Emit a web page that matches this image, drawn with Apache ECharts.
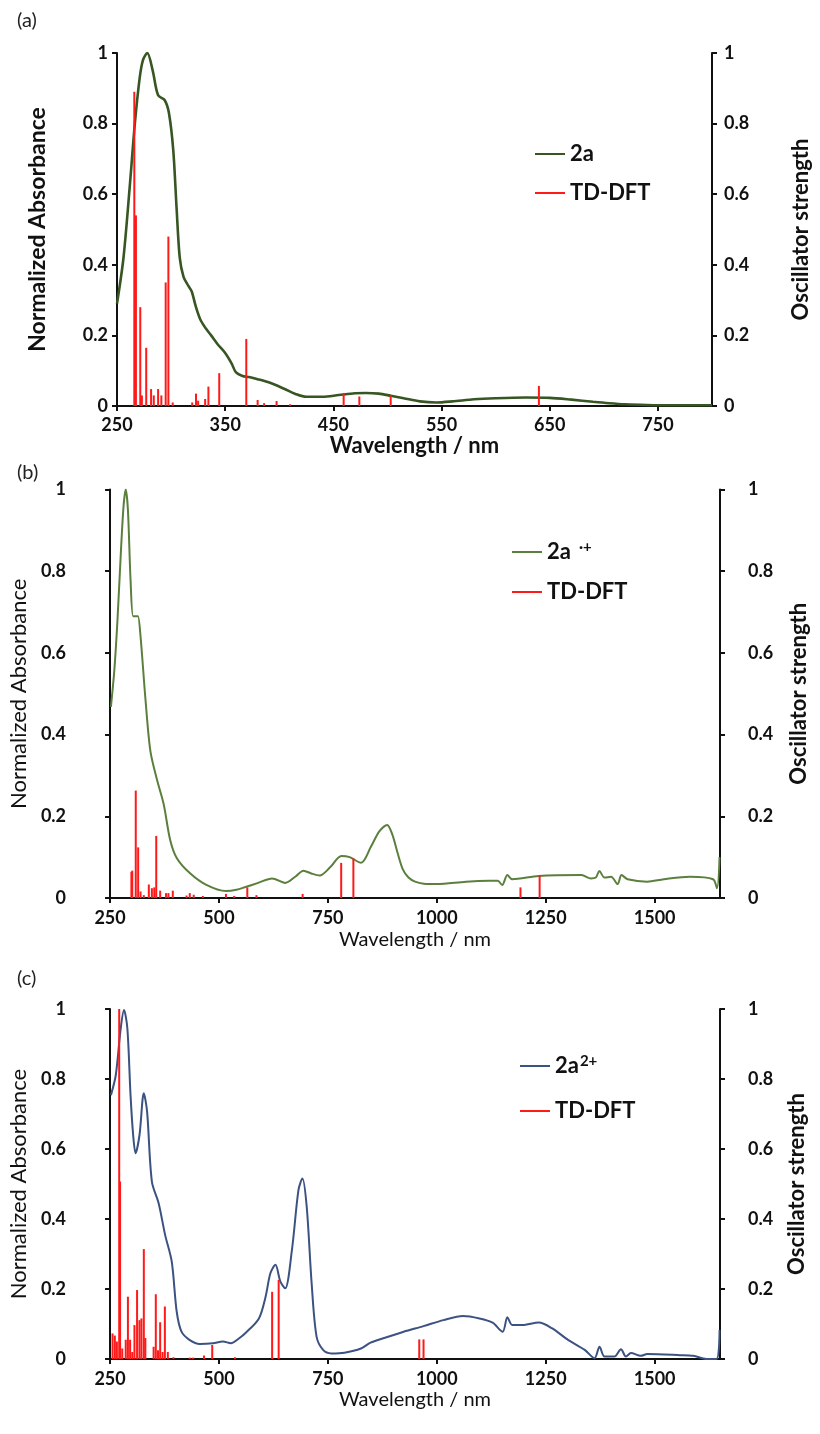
<!DOCTYPE html>
<html><head><meta charset="utf-8">
<script src="https://cdn.jsdelivr.net/npm/echarts@6/dist/echarts.min.js"></script>
<style>html,body{margin:0;padding:0;background:#fff}#c{width:820px;height:1434px}</style>
</head><body><div id="c"></div>
<script>
// ---------- DATA ----------
const panelLabels = ['(a)', '(b)', '(c)'];
const seriesNames = ['2a', '2a·+', '2a2+'];
const dftName = 'TD-DFT';
const xTicksA = [250, 350, 450, 550, 650, 750];
const xTicksBC = [250, 500, 750, 1000, 1250, 1500];

// (a) 2a absorbance [nm, normalized]
const absA = [[250,0.29],[256,0.42],[262,0.63],[266.5,0.80],[271,0.93],[274,0.98],[278,1.0],[283,0.95],[288,0.88],[294,0.867],[298,0.83],[302,0.725],[305,0.565],[308,0.42],[311.5,0.366],[316,0.34],[319,0.325],[323,0.28],[327,0.245],[332,0.22],[337,0.2],[343,0.175],[350,0.15],[356,0.12],[360,0.095],[366,0.085],[372,0.082],[380,0.076],[392,0.065],[405,0.048],[415,0.034],[425,0.026],[440,0.026],[455,0.031],[470,0.036],[480,0.037],[492,0.035],[503,0.029],[515,0.022],[530,0.013],[545,0.01],[560,0.013],[580,0.019],[600,0.022],[628,0.024],[650,0.023],[670,0.018],[690,0.012],[705,0.008],[720,0.005],[740,0.003],[760,0.002],[800,0.002]];
// (a) TD-DFT oscillator strengths [nm, f]
const dftA = [[266,0.89],[267.5,0.54],[271.5,0.28],[273,0.03],[277,0.165],[281.5,0.048],[284,0.03],[288,0.048],[291,0.03],[295,0.35],[297.5,0.48],[301.5,0.01],[319.5,0.01],[323,0.035],[325,0.015],[331.5,0.02],[334.5,0.055],[344.5,0.093],[369.5,0.19],[380,0.017],[386,0.008],[397.5,0.014],[410,0.005],[459.5,0.037],[474,0.027],[503,0.03],[640,0.057]];

// (b) 2a·+ absorbance
const absB = [[252,0.468],[260,0.56],[267,0.68],[275,0.85],[281,0.96],[286,1.0],[291,0.95],[297,0.78],[303,0.69],[310,0.69],[314,0.69],[320,0.64],[331,0.49],[342.5,0.36],[357.6,0.29],[373,0.23],[388,0.142],[403,0.098],[433,0.061],[471,0.032],[516,0.017],[540,0.02],[561,0.027],[590,0.037],[622,0.048],[652,0.037],[675,0.052],[694,0.067],[712,0.06],[731,0.055],[755,0.075],[781,0.103],[800,0.1],[826,0.086],[849,0.126],[868,0.163],[886,0.179],[898,0.155],[910,0.11],[922,0.07],[935,0.05],[950,0.04],[970,0.035],[1000,0.034],[1067,0.04],[1120,0.042],[1140,0.042],[1150,0.032],[1162,0.056],[1173,0.046],[1234,0.054],[1332,0.056],[1354,0.048],[1365,0.05],[1373,0.066],[1385,0.05],[1400,0.052],[1415,0.034],[1424,0.056],[1438,0.046],[1483,0.04],[1521,0.046],[1581,0.052],[1634,0.046],[1643,0.024],[1649,0.10]];
const dftB = [[299,0.064],[301,0.067],[309,0.263],[314.5,0.124],[320,0.016],[327.5,0.007],[339,0.033],[346,0.024],[351.5,0.026],[356,0.152],[365,0.018],[378.5,0.012],[384,0.012],[394,0.018],[425.5,0.006],[433,0.012],[442,0.008],[463,0.005],[516,0.01],[535,0.005],[565,0.026],[586,0.007],[692,0.01],[780.5,0.086],[808.5,0.097],[1192,0.026],[1236,0.056]];

// (c) 2a2+ absorbance
const absC = [[252,0.754],[263,0.81],[274.5,0.945],[282,0.997],[289.7,0.945],[297,0.754],[303,0.64],[308.5,0.588],[317.6,0.64],[327.5,0.759],[335,0.707],[346,0.507],[361.5,0.445],[376.5,0.354],[391.6,0.278],[403,0.135],[414,0.078],[433,0.054],[456,0.043],[486,0.045],[508.8,0.05],[527.6,0.045],[545,0.058],[561.6,0.075],[591.7,0.116],[607,0.178],[618,0.245],[629.6,0.269],[641,0.221],[652,0.202],[667.4,0.311],[682.5,0.483],[691.5,0.516],[701.4,0.435],[712.7,0.216],[724,0.064],[739,0.026],[758,0.016],[788,0.018],[826,0.03],[848,0.047],[879,0.06],[924,0.078],[969.5,0.094],[1015,0.111],[1060,0.123],[1098,0.116],[1128,0.104],[1151,0.078],[1162,0.119],[1173,0.097],[1196,0.097],[1234,0.104],[1264,0.088],[1302,0.054],[1339.6,0.026],[1362,0.002],[1373.5,0.035],[1385,0.007],[1407.5,0.007],[1422.7,0.028],[1434,0.007],[1445.6,0.017],[1468,0.009],[1483,0.014],[1558.6,0.011],[1588.7,0.009],[1619,0.0],[1642,0.0],[1649,0.083]];
const dftC = [[255.7,0.073],[261,0.067],[265.6,0.05],[271,1.0],[273,0.507],[278,0.03],[286,0.055],[291,0.178],[296,0.055],[301,0.02],[306,0.097],[312,0.197],[317.5,0.111],[322,0.116],[327.5,0.314],[331,0.06],[350,0.035],[355,0.185],[360,0.025],[365,0.105],[370.5,0.02],[375.8,0.15],[382.6,0.02],[395.5,0.005],[433,0.004],[440.8,0.004],[465.7,0.01],[484.5,0.04],[536.6,0.005],[622,0.192],[637,0.226],[959.7,0.056],[969.5,0.056]];

// ---------- CHART ----------
const FONT = 'Lato';
const chart = echarts.init(document.getElementById('c'), null, {renderer: 'canvas'});

const panels = [
  {grid:{left:117, top:53, width:599.5, height:353}, xmin:250, xmax:800, xint:100, color:'#375623', lw:2.6,
   boldTitles:true, yLabelMarginL:9, yLabelMarginR:12, xLabelMargin:10, nameGapL:68, nameGapR:78, nameGapX:28,
   legend:{left:530, top:137, gap:15}, abs:absA, dft:dftA},
  {grid:{left:102.5, top:489.5, width:617.5, height:408.5}, xmin:250, xmax:1650, xint:250, color:'#5b7f3d', lw:2,
   boldTitles:false, yLabelMarginL:44, yLabelMarginR:28, xLabelMargin:11, nameGapL:60, nameGapR:68, nameGapX:32,
   legend:{left:507, top:535, gap:15}, abs:absB, dft:dftB},
  {grid:{left:102.5, top:1009, width:617.5, height:350}, xmin:250, xmax:1650, xint:250, color:'#3c5282', lw:2,
   boldTitles:false, yLabelMarginL:44, yLabelMarginR:28, xLabelMargin:11, nameGapL:60, nameGapR:66, nameGapX:31,
   legend:{left:515, top:1049, gap:21}, abs:absC, dft:dftC}
];

const axisLine = {show:true, lineStyle:{color:'#111', width:2}};
const axisTick = {show:true, inside:false, length:5, lineStyle:{color:'#111', width:2}};

const option = {
  backgroundColor:'#fff',
  animation:false,
  title: panelLabels.map((t,i)=>({text:t, left:12, top:[6,458,964][i], textStyle:{fontFamily:FONT, fontSize:20, fontWeight:'normal', color:'#222'}})),
  grid: panels.map(p=>p.grid),
  xAxis: panels.map((p,i)=>({
    type:'value', gridIndex:i, min:p.xmin, max:p.xmax, interval:p.xint,
    name:'Wavelength / nm', nameLocation:'middle', nameGap:p.nameGapX,
    nameTextStyle:{fontFamily:FONT, fontSize:p.boldTitles?22:20, fontWeight:p.boldTitles?'bold':'normal', color:'#111'},
    axisLine, axisTick, splitLine:{show:false},
    axisLabel:{showMaxLabel:false, margin:p.xLabelMargin, fontFamily:FONT, fontSize:18, fontWeight:'bold', color:'#111',
      formatter: v => String(v)}
  })),
  yAxis: [],
  legend: panels.map((p,i)=>({
    orient:'vertical', left:p.legend.left, top:p.legend.top, itemGap:p.legend.gap,
    itemWidth:30, itemHeight:2, icon:'rect', selectedMode:false,
    data:[seriesNames[i], dftName],
    textStyle:{fontFamily:FONT, fontSize:22, fontWeight:'bold', color:'#111', lineHeight:24,
      rich:{m:{fontFamily:FONT, fontSize:22, fontWeight:'bold', color:'#111', lineHeight:24},
            s:{fontFamily:FONT, fontSize:15, fontWeight:'bold', color:'#111', lineHeight:10, verticalAlign:'top', padding:[0,0,i===1?10:0,i===1?8:1]}}},
    formatter: name => {
      if (name === '2a·+') return '{m|2a}{s|·+}';
      if (name === '2a2+') return '{m|2a}{s|2+}';
      return name;
    }
  })),
  series: []
};

panels.forEach((p,i)=>{
  option.yAxis.push({
    type:'value', gridIndex:i, position:'left', min:0, max:1, interval:0.2,
    name:'Normalized Absorbance', nameLocation:'middle', nameGap:p.nameGapL,
    nameTextStyle:{fontFamily:FONT, fontSize:p.boldTitles?23:22, fontWeight:p.boldTitles?'bold':'normal', color:'#111'},
    axisLine, axisTick, splitLine:{show:false},
    axisLabel:{margin:p.yLabelMarginL, fontFamily:FONT, fontSize:18, fontWeight:'bold', color:'#111'}
  });
  option.yAxis.push({
    type:'value', gridIndex:i, position:'right', min:0, max:1, interval:0.2,
    name:'Oscillator strength', nameLocation:'middle', nameGap:p.nameGapR, nameRotate:90,
    nameTextStyle:{fontFamily:FONT, fontSize:22, fontWeight:'bold', color:'#111'},
    axisLine, axisTick, splitLine:{show:false},
    axisLabel:{margin:p.yLabelMarginR, fontFamily:FONT, fontSize:18, fontWeight:'bold', color:'#111'}
  });
  option.series.push({
    type:'line', name:seriesNames[i], xAxisIndex:i, yAxisIndex:2*i, data:p.abs,
    showSymbol:false, smooth:0.3, color:p.color, lineStyle:{color:p.color, width:p.lw}, z:2
  });
  option.series.push({
    type:'bar', name:dftName, xAxisIndex:i, yAxisIndex:2*i+1, data:p.dft,
    barWidth:2, color:'#ff1a1a', itemStyle:{color:'#ff1a1a'}, z:3
  });
});

chart.setOption(option);
</script></body></html>
